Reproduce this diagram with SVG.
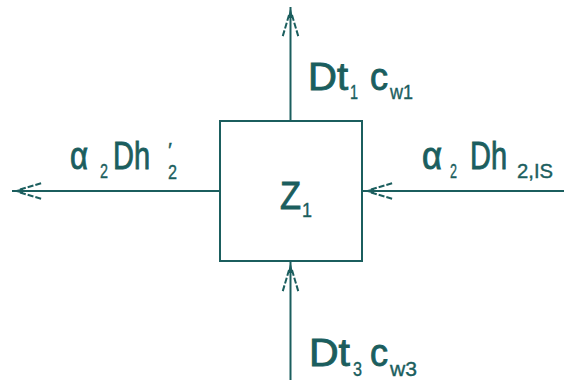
<svg xmlns="http://www.w3.org/2000/svg" xmlns:xlink="http://www.w3.org/1999/xlink" width="564" height="380" viewBox="0 0 564 380">
<style>
.ln{stroke:#1b5e5e;stroke-width:2;fill:none}
.t{font-family:"Liberation Sans",Arial,sans-serif;fill:#1b5e5e;font-size:38px;stroke:#1b5e5e;stroke-width:0.9}
.s{font-family:"Liberation Sans",Arial,sans-serif;fill:#1b5e5e;font-size:21px;stroke:#1b5e5e;stroke-width:0.4}
</style>
<defs>
<g id="ah">
<polygon points="0,0 11,-2.5 11,2.5" fill="#1b5e5e"/>
<path d="M8,-1.5 L30,-8 M8,1.5 L30,8" class="ln" stroke-dasharray="6 2"/>
</g>
</defs>
<rect width="564" height="380" fill="#fff"/>
<g id="Z1">
<rect x="220" y="121" width="142" height="140" class="ln"/>
<text class="t" x="280" y="209" font-size="41" textLength="21" lengthAdjust="spacingAndGlyphs">Z</text>
<text class="s" x="302" y="217" font-size="23" textLength="10" lengthAdjust="spacingAndGlyphs">1</text>
</g>
<g id="connectors">
<g id="out-top">
<line x1="290.5" y1="7" x2="290.5" y2="121" class="ln"/>
<use xlink:href="#ah" transform="translate(290.5,7) rotate(90)"/>
<text class="t" x="308" y="90" textLength="40" lengthAdjust="spacingAndGlyphs">Dt</text>
<text class="s" x="350" y="99" textLength="8" lengthAdjust="spacingAndGlyphs">1</text>
<text class="t" x="370" y="90" textLength="18" lengthAdjust="spacingAndGlyphs">c</text>
<text class="s" x="390" y="99" textLength="23" lengthAdjust="spacingAndGlyphs">w1</text>
</g>
<g id="in-bottom">
<line x1="290.5" y1="261" x2="290.5" y2="380" class="ln"/>
<use xlink:href="#ah" transform="translate(290.5,262) rotate(90)"/>
<text class="t" x="309" y="366" textLength="41" lengthAdjust="spacingAndGlyphs">Dt</text>
<text class="s" x="353" y="376" textLength="9" lengthAdjust="spacingAndGlyphs">3</text>
<text class="t" x="370" y="366" textLength="18" lengthAdjust="spacingAndGlyphs">c</text>
<text class="s" x="390" y="376" textLength="27" lengthAdjust="spacingAndGlyphs">w3</text>
</g>
<g id="out-left">
<line x1="12" y1="191" x2="220" y2="191" class="ln"/>
<use xlink:href="#ah" transform="translate(12,191)"/>
<text class="t" x="70" y="169" textLength="18" lengthAdjust="spacingAndGlyphs">α</text>
<text class="s" x="100" y="178" textLength="8" lengthAdjust="spacingAndGlyphs">2</text>
<text class="t" x="113" y="169" textLength="37" lengthAdjust="spacingAndGlyphs">Dh</text>
<text class="s" x="168" y="157" font-size="20">′</text>
<text class="s" x="168" y="179" font-size="19" textLength="9" lengthAdjust="spacingAndGlyphs">2</text>
</g>
<g id="in-right">
<line x1="362" y1="191" x2="564" y2="191" class="ln"/>
<use xlink:href="#ah" transform="translate(363,191)"/>
<text class="t" x="422" y="169" textLength="20" lengthAdjust="spacingAndGlyphs">α</text>
<text class="s" x="450" y="178" textLength="7" lengthAdjust="spacingAndGlyphs">2</text>
<text class="t" x="470" y="169" textLength="37" lengthAdjust="spacingAndGlyphs">Dh</text>
<text class="s" x="517" y="178" textLength="36" lengthAdjust="spacingAndGlyphs">2,IS</text>
</g>
</g>
</svg>
